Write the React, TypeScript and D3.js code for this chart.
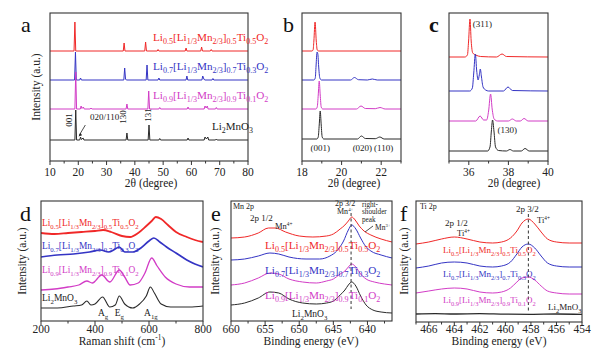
import React from "react";
import * as d3 from "d3";

// ---------- DATA ----------
const SAMPLE_LABELS = [
  "Li_{0.5}[Li_{1/3}Mn_{2/3}]_{0.5}Ti_{0.5}O_{2}",
  "Li_{0.7}[Li_{1/3}Mn_{2/3}]_{0.7}Ti_{0.3}O_{2}",
  "Li_{0.9}[Li_{1/3}Mn_{2/3}]_{0.9}Ti_{0.1}O_{2}",
  "Li_{2}MnO_{3}",
];
const SERIES_COLORS = ["#f02828", "#3434c4", "#d23cc6", "#2a2a2a"];

// Panel a: XRD full range (2θ, stacked intensity)
const xrdFullRed: [number, number][] = [[10,110],[18.5,110],[18.8,139],[19.1,110],[35.9,110],[36.2,118],[36.5,110],[43.5,110],[43.8,119],[44.1,110],[47.9,110],[48.2,111.5],[48.5,110],[57.8,110],[58.1,113],[58.4,110],[63.3,110],[63.6,114],[63.9,110],[66.7,110],[67.0,111.5],[67.3,110],[80,110]];
const xrdFullBlue: [number, number][] = [[10,81],[18.7,81],[19.0,109],[19.3,81],[20.5,81],[20.8,83],[21.1,81],[36.1,81],[36.4,93],[36.7,82],[37.0,81],[44.0,81],[44.3,96],[44.6,81],[48.2,81],[48.5,83],[48.8,81],[58.1,81],[58.4,85],[58.7,81],[63.7,81],[64.0,85],[64.4,82],[64.7,81],[67.3,81],[67.6,82.5],[67.9,81],[80,81]];
const xrdFullMagenta: [number, number][] = [[10,52],[18.8,52],[19.1,89],[19.4,52],[20.7,52],[21.0,55],[21.3,52.5],[21.8,54],[22.1,52],[24.2,52],[24.5,53],[24.8,52],[36.9,52],[37.2,57],[37.5,52],[44.6,52],[44.9,70],[45.2,52],[48.5,52],[48.8,53.5],[49.1,52],[58.5,52],[58.8,54],[59.1,52],[64.5,52],[64.8,55],[65.2,53],[65.6,55],[65.9,52],[68.5,52],[68.8,53.5],[69.1,52],[80,52]];
const xrdFullBlack: [number, number][] = [[10,21],[18.8,21],[19.1,51],[19.4,21],[20.5,21],[20.8,24],[21.1,21.5],[21.7,23],[22.0,21],[36.9,21],[37.2,28],[37.5,21],[44.7,21],[45.0,36],[45.3,21],[48.5,21],[48.8,22.5],[49.1,21],[58.5,21],[58.8,23],[59.1,21],[64.5,21],[64.8,24],[65.3,22],[65.8,24],[66.1,21],[68.5,21],[68.8,22],[69.1,21],[80,21]];

// Panel b: XRD 18–23°
const xrdLowRed: [number, number][] = [[18,110],[18.5,110],[18.56,111],[18.6,120],[18.66,139],[18.72,120],[18.77,111],[18.85,110],[23,110]];
const xrdLowBlue: [number, number][] = [[18,81],[18.6,81],[18.67,83],[18.71,95],[18.76,109],[18.8,107],[18.84,95],[18.9,83],[18.98,81],[20.45,81],[20.65,83.5],[20.85,81.3],[21.3,81],[21.55,82],[21.8,81],[23,81]];
const xrdLowMagenta: [number, number][] = [[18,52],[18.7,52],[18.77,54],[18.82,66],[18.87,80],[18.92,66],[18.97,54],[19.05,52],[20.75,52],[20.98,55],[21.2,52.5],[21.7,52.3],[21.94,53.5],[22.2,52],[23,52]];
const xrdLowBlack: [number, number][] = [[18,22],[18.75,22],[18.82,24],[18.87,36],[18.92,50],[18.97,36],[19.02,24],[19.1,22],[20.8,22],[21.0,25],[21.2,22.5],[21.7,22.3],[21.93,24],[22.15,22],[23,22]];

// Panel c: XRD 35–40°
const xrdMidRed: [number, number][] = [[35,104],[35.8,104],[35.93,106],[35.99,120],[36.06,142],[36.12,120],[36.2,108],[36.35,106],[36.6,104.5],[37.4,104],[37.68,107],[37.9,104.5],[40,104]];
const xrdMidBlue: [number, number][] = [[35,70],[36.05,70],[36.18,73],[36.25,88],[36.33,107],[36.4,90],[36.47,81],[36.53,86],[36.58,92],[36.64,84],[36.72,74],[36.85,71],[37.0,70],[37.75,70],[37.98,74],[38.2,70.5],[40,70]];
const xrdMidMagenta: [number, number][] = [[35,40],[36.35,40],[36.57,45],[36.75,41],[36.9,41],[37.0,50],[37.1,67],[37.18,52],[37.28,42],[37.45,40],[38.0,40],[38.2,42],[38.4,40],[38.6,40],[38.79,42.5],[39.0,40],[40,40]];
const xrdMidBlack: [number, number][] = [[35,10],[36.95,10],[37.07,14],[37.14,30],[37.2,41],[37.27,30],[37.35,14],[37.5,10.5],[37.9,10],[38.08,11.5],[38.25,10],[38.65,10],[38.84,12.5],[39.05,10],[40,10]];

// Panel d: Raman (cm-1, stacked intensity)
const ramanRed: [number, number][] = [[200,88],[250,87],[300,88],[350,89],[400,90],[430,91],[460,89],[500,85],[530,84],[560,88],[590,95],[610,100],[625,104],[645,102],[670,96],[700,89],[740,84],[770,81],[800,79]];
const ramanBlue: [number, number][] = [[200,64],[260,66],[320,67],[380,69],[420,71],[450,69],[475,72],[490,74],[510,69],[540,69],[570,73],[600,80],[618,83],[640,79],[665,74],[700,68],[740,61],[770,57],[800,54]];
const ramanMagenta: [number, number][] = [[200,31],[250,32],[300,34],[340,36],[370,40],[390,38],[425,46],[455,39],[490,51],[510,44],[530,36],[560,38],[585,48],[610,63],[630,55],[660,44],[700,37],[750,34],[800,34]];
const ramanBlack: [number, number][] = [[200,13],[260,13],[320,15],[350,16],[370,20],[385,16],[400,17],[428,24],[455,14],[475,16],[490,25],[510,17],[540,13],[565,17],[590,25],[605,34],[620,28],[645,17],[680,14],[750,14],[800,15]];

// Panel e: XPS Mn 2p (eV, stacked intensity)
const mnRed: [number, number][] = [[660,83],[658,84],[656,88],[654.5,93],[653.5,93],[652,89],[650,85],[648,84],[646,85],[645,87],[644,92],[643.3,96],[642.8,100],[642.3,104],[641.8,101],[641.2,95],[640.5,90],[639.5,86],[638,82],[636.4,79]];
const mnBlue: [number, number][] = [[660,61],[658,62],[656,65],[654.3,68],[653,67],[651.5,64],[649,62],[647,62],[645.5,65],[644.5,70],[643.5,80],[642.8,91],[642.3,96],[641.7,92],[641,83],[640.3,75],[639.5,70],[638,66],[636.4,63]];
const mnMagenta: [number, number][] = [[660,36],[658,38],[656,43],[654.3,48],[653,47],[651.5,42],[649.5,39],[647.5,38],[646,40],[645,42],[644,47],[643.3,50],[642.8,54],[642.3,57],[641.7,54],[641,47],[640.2,42],[639,39],[637.5,37],[636.4,36]];
const mnBlack: [number, number][] = [[660,16],[658,18],[656,23],[654.3,29],[653,28],[651.5,22],[649.5,18],[647.5,17],[646,18],[645,20],[644,26],[643.3,31],[642.8,36],[642.3,39],[641.7,35],[641,25],[640.2,16],[639.2,11],[638,9],[636.4,8]];

// Panel f: XPS Ti 2p
const tiRed: [number, number][] = [[467,78],[466,80],[465,83],[464,85],[463,83],[462,80],[461,79],[460.3,80],[459.6,84],[459.1,91],[458.7,99],[458.2,103],[457.7,98],[457.2,90],[456.7,83],[456,80],[455,79],[454,79]];
const tiBlue: [number, number][] = [[467,54],[466,56],[465,59],[464,60],[463,59],[462,56],[461,55],[460.3,56],[459.6,60],[459.1,68],[458.7,75],[458.2,78],[457.7,74],[457.2,66],[456.7,59],[456,56],[455,55],[454,55]];
const tiMagenta: [number, number][] = [[467,29],[466,31],[465,33],[464,34],[463,33],[462,30],[461,29],[460.3,30],[459.6,34],[459.1,40],[458.7,44],[458.2,45],[457.7,42],[457.2,36],[456.7,31],[456,29],[455,28],[454,28]];
const tiBlack: [number, number][] = [[467,8],[465.5,8.4],[464,8],[462,8.3],[460,7.8],[458,7.7],[456,8],[454,7.6]];

const TICKS_A = [10, 20, 30, 40, 50, 60, 70, 80];
const TICKS_B = [18, 20, 22];
const TICKS_C = [36, 38, 40];
const TICKS_D = [200, 400, 600, 800];
const TICKS_E = [660, 655, 650, 645, 640];
const TICKS_F = [466, 464, 462, 460, 458, 456, 454];

// ---------- HELPERS ----------
const FONT = "'Liberation Serif', 'Times New Roman', serif";

function Formula({ text, x, y, size, fill, anchor = "start", ratio = 0.72 }: any) {
  const re = /_\{([^}]*)\}|\^\{([^}]*)\}|([^_^]+)/g;
  const parts: { t: string; k: "n" | "sub" | "sup" }[] = [];
  let m;
  while ((m = re.exec(text))) {
    if (m[1] !== undefined) parts.push({ t: m[1], k: "sub" });
    else if (m[2] !== undefined) parts.push({ t: m[2], k: "sup" });
    else parts.push({ t: m[3], k: "n" });
  }
  let cur = 0;
  return (
    <text x={x} y={y} fontSize={size} fill={fill} fontFamily={FONT} textAnchor={anchor}>
      {parts.map((p, i) => {
        const target = p.k === "sub" ? size * 0.3 : p.k === "sup" ? -size * 0.4 : 0;
        const dy = target - cur;
        cur = target;
        return (
          <tspan key={i} dy={dy} fontSize={p.k === "n" ? size : size * ratio}>
            {p.t}
          </tspan>
        );
      })}
    </text>
  );
}

type Series = { pts: [number, number][]; color: string; width?: number };

function Panel({ id, left, right, top, bottom, xDomain, yMax, ticks, minor, series, curve, labelOffset, children }: any) {
  const x = d3.scaleLinear().domain(xDomain).range([left, right]);
  const y = d3.scaleLinear().domain([0, yMax]).range([bottom, top]);
  const line = d3
    .line<[number, number]>()
    .x((d) => x(d[0]))
    .y((d) => y(d[1]))
    .curve(curve);
  return (
    <g>
      <defs>
        <clipPath id={`clip-${id}`}>
          <rect x={left} y={top} width={right - left} height={bottom - top} />
        </clipPath>
      </defs>
      <g clipPath={`url(#clip-${id})`}>
        {series.map((s: Series, i: number) => (
          <path key={i} d={line(s.pts) || ""} fill="none" stroke={s.color} strokeWidth={s.width ?? 1} strokeLinejoin="round" />
        ))}
      </g>
      <rect x={left} y={top} width={right - left} height={bottom - top} fill="none" stroke="#333" strokeWidth={1.1} />
      {ticks.map((t: number) => (
        <g key={t}>
          <line x1={x(t)} x2={x(t)} y1={bottom} y2={bottom + 4} stroke="#333" strokeWidth={1} />
          <text x={x(t)} y={bottom + labelOffset} textAnchor="middle" fontSize={11.5} fontFamily={FONT} fill="#222">
            {t}
          </text>
        </g>
      ))}
      {minor.map((t: number) => (
        <line key={"m" + t} x1={x(t)} x2={x(t)} y1={bottom} y2={bottom + 2.5} stroke="#333" strokeWidth={1} />
      ))}
      {children && children(x, y)}
    </g>
  );
}

function mids(ticks: number[]) {
  const out: number[] = [];
  for (let i = 0; i < ticks.length - 1; i++) out.push((ticks[i] + ticks[i + 1]) / 2);
  return out;
}

const YLabel = ({ x, y }: any) => (
  <text transform={`translate(${x},${y}) rotate(-90)`} textAnchor="middle" fontSize={11.5} fontFamily={FONT} fill="#222">
    Intensity (a.u.)
  </text>
);
const Letter = ({ x, y, t, bold }: any) => (
  <text x={x} y={y} fontSize={22} fontFamily={FONT} fontWeight={bold ? "bold" : "normal"} fill="#111">
    {t}
  </text>
);

export default function App() {
  const [R, B, M, K] = SERIES_COLORS;
  const small = { fontSize: 9, fontFamily: FONT, fill: "#222" };
  const tiny = { fontSize: 7.2, fontFamily: FONT, fill: "#222" };
  return (
    <svg width={603} height={353} style={{ position: "absolute", left: 0, top: 0, background: "#fff" }}>
      <rect width={603} height={353} fill="#fff" />
      {/* ---- a ---- */}
      <Letter x={21} y={32} t="a" />
      <YLabel x={40} y={87} />
      <Panel id="a" left={50} right={248} top={13} bottom={161} xDomain={[10, 80]} yMax={148} labelOffset={15}
        ticks={TICKS_A} minor={mids(TICKS_A)} curve={d3.curveLinear}
        series={[{ pts: xrdFullRed, color: R }, { pts: xrdFullBlue, color: B }, { pts: xrdFullMagenta, color: M }, { pts: xrdFullBlack, color: K }]}>
        {(x: any, y: any) => (
          <g>
            <Formula text={SAMPLE_LABELS[0]} x={153} y={41} size={11.2} fill={R} />
            <Formula text={SAMPLE_LABELS[1]} x={153} y={70} size={11.2} fill={B} />
            <Formula text={SAMPLE_LABELS[2]} x={153} y={99} size={11.2} fill={M} />
            <Formula text={SAMPLE_LABELS[3]} x={212} y={130} size={11} fill="#222" />
            <text transform={`translate(${x(19.1) - 4},${y(41)}) rotate(-90)`} textAnchor="middle" {...small}>001</text>
            <text x={90} y={y(41)} {...small}>020/110</text>
            <line x1={x(22.5)} y1={y(36)} x2={x(20.4)} y2={y(26)} stroke="#222" strokeWidth={0.8} />
            <path d={`M${x(20.1)},${y(24.5)} l3.5,-1.2 l-1.8,-2.6 z`} fill="#222" />
            <text transform={`translate(${x(37.2) - 1},${y(44)}) rotate(-90)`} textAnchor="middle" {...small}>130</text>
            <text transform={`translate(${x(45.0) + 2},${y(46)}) rotate(-90)`} textAnchor="middle" {...small}>131</text>
          </g>
        )}
      </Panel>
      <text x={151} y={187} textAnchor="middle" fontSize={11.5} fontFamily={FONT} fill="#222">2θ (degree)</text>

      {/* ---- b ---- */}
      <Letter x={283} y={32} t="b" />
      <Panel id="b" left={302} right={401} top={13} bottom={161} xDomain={[18, 23]} yMax={148} labelOffset={15}
        ticks={TICKS_B} minor={[19, 21, 23]} curve={d3.curveMonotoneX}
        series={[{ pts: xrdLowRed, color: R }, { pts: xrdLowBlue, color: B }, { pts: xrdLowMagenta, color: M }, { pts: xrdLowBlack, color: K }]}>
        {(x: any, y: any) => (
          <g>
            <text x={x(18.92)} y={151} textAnchor="middle" {...small}>(001)</text>
            <text x={x(21.05)} y={151} textAnchor="middle" {...small}>(020)</text>
            <text x={x(22.12)} y={151} textAnchor="middle" {...small}>(110)</text>
          </g>
        )}
      </Panel>
      <text x={354} y={187} textAnchor="middle" fontSize={11.5} fontFamily={FONT} fill="#222">2θ (degree)</text>

      {/* ---- c ---- */}
      <Letter x={429} y={32} t="c" bold />
      <Panel id="c" left={449} right={548} top={13} bottom={161} xDomain={[35, 40]} yMax={148} labelOffset={15}
        ticks={TICKS_C} minor={[35, 37, 39]} curve={d3.curveMonotoneX}
        series={[{ pts: xrdMidRed, color: R }, { pts: xrdMidBlue, color: B }, { pts: xrdMidMagenta, color: M }, { pts: xrdMidBlack, color: K }]}>
        {(x: any, y: any) => (
          <g>
            <text x={x(36.2)} y={27} {...small}>(311)</text>
            <text x={x(37.45)} y={133} {...small}>(130)</text>
          </g>
        )}
      </Panel>
      <text x={514} y={187} textAnchor="middle" fontSize={11.5} fontFamily={FONT} fill="#222">2θ (degree)</text>

      {/* ---- d ---- */}
      <Letter x={20} y={221} t="d" />
      <YLabel x={26} y={261} />
      <Panel id="d" left={41} right={203} top={201} bottom={321} xDomain={[200, 800]} yMax={120} labelOffset={12}
        ticks={TICKS_D} minor={mids(TICKS_D)} curve={d3.curveMonotoneX}
        series={[{ pts: ramanRed, color: R, width: 1.8 }, { pts: ramanBlue, color: B, width: 1.7 }, { pts: ramanMagenta, color: M, width: 1.3 }, { pts: ramanBlack, color: K, width: 1.1 }]}>
        {(x: any, y: any) => (
          <g>
            <Formula text={SAMPLE_LABELS[0]} x={42} y={226} size={9.4} fill={R} />
            <Formula text={SAMPLE_LABELS[1]} x={42} y={249} size={9.4} fill={B} />
            <Formula text={SAMPLE_LABELS[2]} x={42} y={273} size={9.4} fill={M} />
            <Formula text={SAMPLE_LABELS[3]} x={42} y={301} size={9.5} fill="#222" />
            <Formula text="A_{g}" x={x(430)} y={316} size={9.5} fill="#222" anchor="middle" />
            <Formula text="E_{g}" x={x(490)} y={316} size={9.5} fill="#222" anchor="middle" />
            <Formula text="A_{1g}" x={x(607)} y={316} size={9.5} fill="#222" anchor="middle" />
          </g>
        )}
      </Panel>
      <Formula text="Raman shift (cm^{-1})" x={122} y={345} size={11.5} fill="#222" anchor="middle" ratio={0.64} />

      {/* ---- e ---- */}
      <Letter x={211} y={221} t="e" />
      <YLabel x={219} y={261} />
      <Panel id="e" left={231} right={392} top={201} bottom={321} xDomain={[660, 636.4]} yMax={120} labelOffset={12}
        ticks={TICKS_E} minor={[657.5, 652.5, 647.5, 642.5, 637.5]} curve={d3.curveMonotoneX}
        series={[{ pts: mnRed, color: R }, { pts: mnBlue, color: B }, { pts: mnMagenta, color: M }, { pts: mnBlack, color: K }]}>
        {(x: any, y: any) => (
          <g>
            <line x1={x(642.4)} x2={x(642.4)} y1={213} y2={309} stroke="#333" strokeWidth={1} strokeDasharray="3,2.5" />
            <text x={233} y={209} fontSize={8} fontFamily={FONT} fill="#222">Mn 2p</text>
            <text x={250} y={221} {...small}>2p 1/2</text>
            <Formula text="Mn^{4+}" x={275} y={229} size={8.5} fill="#222" ratio={0.62} />
            <text x={335} y={206} fontSize={8} fontFamily={FONT} fill="#222">2p 3/2</text>
            <Formula text="Mn^{4+}" x={337} y={214} size={8} fill="#222" ratio={0.62} />
            <text x={362} y={206.5} {...tiny}>right-</text>
            <text x={362} y={214} {...tiny}>shoulder</text>
            <text x={362} y={221.5} {...tiny}>peak</text>
            <Formula text="Mn^{3+}" x={375} y={230} size={7.5} fill="#222" ratio={0.62} />
            <line x1={373} y1={226} x2={365} y2={232} stroke="#222" strokeWidth={0.8} />
            <Formula text={SAMPLE_LABELS[0]} x={265} y={249} size={11.2} fill={R} />
            <Formula text={SAMPLE_LABELS[1]} x={265} y={274} size={11.2} fill={B} />
            <Formula text={SAMPLE_LABELS[2]} x={265} y={299} size={11.2} fill={M} />
            <Formula text={SAMPLE_LABELS[3]} x={292} y={317} size={9.5} fill="#222" />
          </g>
        )}
      </Panel>
      <text x={311} y={345} textAnchor="middle" fontSize={11.5} fontFamily={FONT} fill="#222">Binding energy (eV)</text>

      {/* ---- f ---- */}
      <Letter x={400} y={221} t="f" />
      <YLabel x={408} y={261} />
      <Panel id="f" left={416} right={582} top={201} bottom={322} xDomain={[467, 454]} yMax={121} labelOffset={11}
        ticks={TICKS_F} minor={[467, 465, 463, 461, 459, 457, 455]} curve={d3.curveMonotoneX}
        series={[{ pts: tiRed, color: R }, { pts: tiBlue, color: B }, { pts: tiMagenta, color: M }, { pts: tiBlack, color: K, width: 1.3 }]}>
        {(x: any, y: any) => (
          <g>
            <line x1={x(458.2)} x2={x(458.2)} y1={214} y2={311} stroke="#333" strokeWidth={1} strokeDasharray="3,2.5" />
            <text x={420} y={209} fontSize={8} fontFamily={FONT} fill="#222">Ti 2p</text>
            <text x={445} y={226} {...small}>2p 1/2</text>
            <Formula text="Ti^{4+}" x={457} y={236} size={8.5} fill="#222" ratio={0.62} />
            <text x={516} y={212} {...small}>2p 3/2</text>
            <Formula text="Ti^{4+}" x={537} y={223} size={8.5} fill="#222" ratio={0.62} />
            <Formula text={SAMPLE_LABELS[0]} x={443} y={253} size={9} fill={R} />
            <Formula text={SAMPLE_LABELS[1]} x={443} y={277} size={9} fill={B} />
            <Formula text={SAMPLE_LABELS[2]} x={443} y={303} size={9} fill={M} />
            <Formula text={SAMPLE_LABELS[3]} x={548} y={310} size={9} fill="#222" />
          </g>
        )}
      </Panel>
      <text x={499} y={345} textAnchor="middle" fontSize={11.5} fontFamily={FONT} fill="#222">Binding energy (eV)</text>
    </svg>
  );
}
